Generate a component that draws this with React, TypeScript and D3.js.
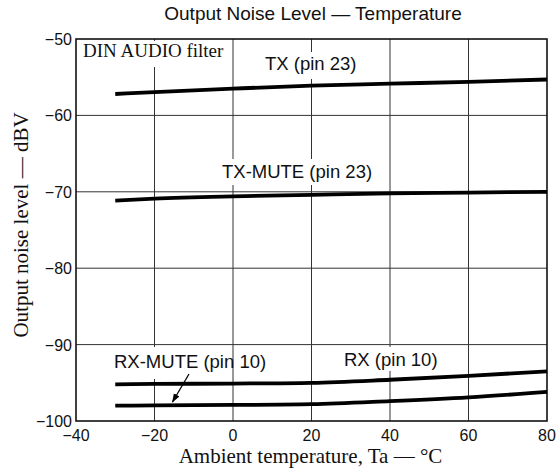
import React from "react";
import * as d3 from "d3";

const temps = [-30, -20, 0, 20, 40, 60, 80];
const txPin23 = [-57.2, -56.95, -56.5, -56.1, -55.85, -55.6, -55.3];
const txMutePin23 = [-71.15, -70.9, -70.6, -70.4, -70.2, -70.1, -70.0];
const rxPin10 = [-95.2, -95.15, -95.1, -95.0, -94.6, -94.1, -93.5];
const rxMutePin10 = [-98.0, -97.95, -97.9, -97.8, -97.4, -96.9, -96.2];

const xTicks = [-40, -20, 0, 20, 40, 60, 80];
const yTicks = [-50, -60, -70, -80, -90, -100];

const W = 558, H = 473;
const M = { left: 76, right: 547, top: 39, bottom: 421 };

const fmt = (v: number) => (v < 0 ? "\u2212" + Math.abs(v) : String(v));

export default function App() {
  const x = d3.scaleLinear().domain([-40, 80]).range([M.left, M.right]);
  const y = d3.scaleLinear().domain([-100, -50]).range([M.bottom, M.top]);
  const line = d3
    .line<[number, number]>()
    .x((d) => x(d[0]))
    .y((d) => y(d[1]))
    .curve(d3.curveMonotoneX);
  const series = [txPin23, txMutePin23, rxPin10, rxMutePin10];
  const sans = "'Liberation Sans', Arial, sans-serif";
  const serif = "'Liberation Serif', 'Times New Roman', serif";

  const labels = [
    { text: "TX (pin 23)", x: 265, y: 70, box: [260, 52, 100, 27] },
    { text: "TX-MUTE (pin 23)", x: 222, y: 178, box: [218, 159, 159, 26] },
    { text: "RX-MUTE (pin 10)", x: 114, y: 368, box: [108, 347, 116, 32] },
    { text: "RX (pin 10)", x: 344, y: 366, box: [340, 347, 100, 24] },
  ];

  return (
    <svg width={W} height={H} style={{ display: "block", position: "absolute", left: 0, top: 0 }}>
      <rect x={0} y={0} width={W} height={H} fill="#fff" />
      <text x={313} y={20} textAnchor="middle" fontFamily={sans} fontSize={19} fill="#111">
        Output Noise Level — Temperature
      </text>
      {/* grid */}
      {xTicks.slice(1, -1).map((t) => (
        <line key={"gx" + t} x1={x(t)} x2={x(t)} y1={M.top} y2={M.bottom} stroke="#333" strokeWidth={1} />
      ))}
      {yTicks.slice(1, -1).map((t) => (
        <line key={"gy" + t} x1={M.left} x2={M.right} y1={y(t)} y2={y(t)} stroke="#333" strokeWidth={1} />
      ))}
      {/* label backgrounds */}
      <rect x={80} y={41} width={148} height={26} fill="#fff" />
      {labels.map((l) => (
        <rect key={"b" + l.text} x={l.box[0]} y={l.box[1]} width={l.box[2]} height={l.box[3]} fill="#fff" />
      ))}
      {/* frame */}
      <rect x={M.left} y={M.top} width={M.right - M.left} height={M.bottom - M.top} fill="none" stroke="#111" strokeWidth={1.6} />
      {/* curves */}
      {series.map((s, i) => (
        <path
          key={"s" + i}
          d={line(temps.map((t, j) => [t, s[j]] as [number, number])) || ""}
          fill="none"
          stroke="#000"
          strokeWidth={3.8}
        />
      ))}
      {/* labels */}
      <text x={83} y={57} fontFamily={serif} fontSize={19} fill="#111">DIN AUDIO filter</text>
      {labels.map((l) => (
        <text key={l.text} x={l.x} y={l.y} fontFamily={sans} fontSize={18.5} fill="#111">
          {l.text}
        </text>
      ))}
      {/* arrow */}
      <defs>
        <marker id="ah" viewBox="0 0 10 10" refX={9} refY={5} markerWidth={7} markerHeight={7} orient="auto">
          <path d="M0,1.5 L10,5 L0,8.5 z" fill="#000" />
        </marker>
      </defs>
      <line x1={189} y1={374} x2={172.5} y2={402} stroke="#000" strokeWidth={1.3} markerEnd="url(#ah)" />
      {/* ticks */}
      {yTicks.map((t) => (
        <text key={"ty" + t} x={72} y={y(t) + 6} textAnchor="end" fontFamily={sans} fontSize={16} fill="#111">
          {fmt(t)}
        </text>
      ))}
      {xTicks.map((t) => (
        <text key={"tx" + t} x={x(t)} y={441} textAnchor="middle" fontFamily={sans} fontSize={16} fill="#111">
          {fmt(t)}
        </text>
      ))}
      <text x={310.5} y={463} textAnchor="middle" fontFamily={serif} fontSize={21} fill="#111">
        Ambient temperature, Ta — °C
      </text>
      <text
        transform={`translate(28, 225) rotate(-90)`}
        textAnchor="middle"
        fontFamily={serif}
        fontSize={21}
        fill="#111"
      >
        Output noise level — dBV
      </text>
    </svg>
  );
}
